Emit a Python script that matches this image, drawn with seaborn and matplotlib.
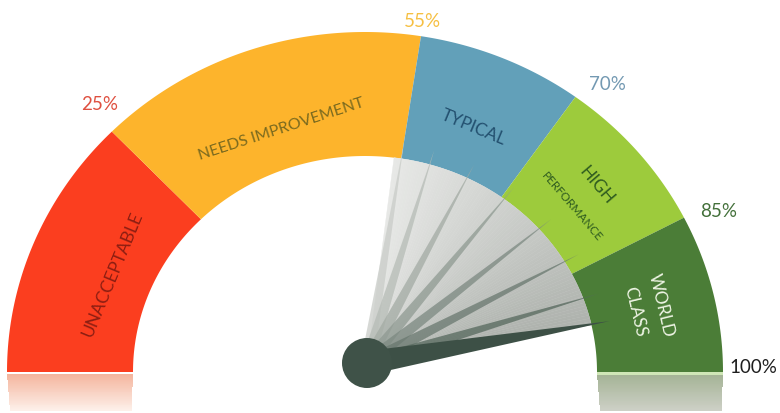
import numpy as np
import matplotlib
matplotlib.use("Agg")
import matplotlib.pyplot as plt
from matplotlib.patches import Polygon, Circle
import seaborn as sns

# ---------------- data ----------------
boundaries = [0, 25, 55, 70, 85, 100]
band_labels = [["UNACCEPTABLE"], ["NEEDS IMPROVEMENT"], ["TYPICAL"],
               ["HIGH", "PERFORMANCE"], ["WORLD", "CLASS"]]
band_colors = ["#fb3e1f", "#fdb42c", "#62a0b9", "#9dcb3c", "#4b7d37"]
band_text_colors = ["#8c1e12", "#7a6a1f", "#23506f", "#2e5b1f", "#eef4e4"]
tick_values = [25, 55, 70, 85, 100]
tick_labels = ["25%", "55%", "70%", "85%", "100%"]
tick_colors = ["#df5040", "#f6c043", "#7399b2", "#43703a", "#1e1e1e"]
needle_value = 93
blur_rays = [55, 59, 64.5, 70.5, 77, 83, 89]
fan_start = 54

# ---------------- style ----------------
sns.set_theme(style="white")
plt.rcParams["font.family"] = ["Lato", "DejaVu Sans"]

# geometry (pixel-like data units, y downward)
CX, CY = 365, 373
RXO, RYO = 358, 340
RXI, RYI = 232, 216
HX, HY = 367, 364


def ang(p):
    return np.deg2rad(180 - 1.8 * p)


def pt(p, t):
    """point at value p, radial fraction t (0 inner edge, 1 outer edge)"""
    a = ang(p)
    rx = RXI + t * (RXO - RXI)
    ry = RYI + t * (RYO - RYI)
    return CX + rx * np.cos(a), CY - ry * np.sin(a)


def arc(p0, p1, t, n=120):
    ps = np.linspace(p0, p1, n)
    xs, ys = pt(ps, t)
    return np.column_stack([xs, ys])


fig = plt.figure(figsize=(7.8, 4.14), dpi=100)
ax = fig.add_axes([0, 0, 1, 1])
ax.set_xlim(0, 780)
ax.set_ylim(414, 0)
ax.axis("off")

# ---------------- bands ----------------
for i in range(len(boundaries) - 1):
    p0, p1 = boundaries[i], boundaries[i + 1]
    outer = arc(p0, p1, 1.0)
    inner = arc(p1, p0, 0.0)
    ax.add_patch(Polygon(np.vstack([outer, inner]), closed=True,
                         facecolor=band_colors[i], edgecolor="none", zorder=2))

# ---------------- reflections ----------------
def reflection(x0, x1, ctop, cbot, y0=375, y1=412, n=40):
    cols = sns.blend_palette([ctop, cbot], n)
    ys = np.linspace(y0, y1, n + 1)
    for k in range(n):
        shrink = 3 * k / n
        ax.fill_between([x0 + shrink, x1 - shrink * 0.5], ys[k], ys[k + 1],
                        color=cols[k], linewidth=0, zorder=1)

reflection(CX - RXO, CX - RXI, "#f4b59d", "#fdf0ea")
reflection(CX + RXI, CX + RXO, "#a4b395", "#cdd0c6")
ax.fill_between([CX + RXI, CX + RXO], 373, 376, color="#cfe6b6", linewidth=0, zorder=1)

# ---------------- fan ----------------
n_fan = 80
fan_vals = np.linspace(fan_start, needle_value, n_fan + 1)
fan_cols = sns.blend_palette(["#e7e8e6", "#aeb2ad"], n_fan)
for k in range(n_fan):
    seg = arc(fan_vals[k], fan_vals[k + 1], 0.0, n=6)
    ax.add_patch(Polygon(np.vstack([[HX, HY], seg]), closed=True,
                         facecolor=fan_cols[k], edgecolor=fan_cols[k],
                         linewidth=0.3, zorder=3))

# blur rays
ray_cols = sns.blend_palette(["#c9ccc8", "#56685d"], len(blur_rays))
for v, c in zip(blur_rays, ray_cols):
    a = ang(v)
    tx, ty = CX + 1.07 * RXI * np.cos(a), CY - 1.07 * RYI * np.sin(a)
    dx, dy = tx - HX, ty - HY
    L = np.hypot(dx, dy)
    nx, ny = -dy / L, dx / L
    w = 6.5
    ax.add_patch(Polygon([[HX + nx * w, HY + ny * w], [tx, ty],
                          [HX - nx * w, HY - ny * w]], closed=True,
                         facecolor=c, edgecolor="none", alpha=0.75, zorder=4))

# needle
a = ang(needle_value)
tx, ty = CX + 1.08 * RXI * np.cos(a), CY - 1.08 * RYI * np.sin(a)
dx, dy = tx - HX, ty - HY
L = np.hypot(dx, dy)
nx, ny = -dy / L, dx / L
w = 12
ax.add_patch(Polygon([[HX + nx * w, HY + ny * w], [tx, ty],
                      [HX - nx * w, HY - ny * w]], closed=True,
                     facecolor="#3d5046", edgecolor="none", zorder=5))
ax.add_patch(Circle((HX, HY), 25, facecolor="#3f5248", edgecolor="none", zorder=6))

# ---------------- band labels ----------------
label_t = [[0.33], [0.32], [0.40], [0.58, 0.32], [0.58, 0.36]]
label_size = [[12.5], [11.5], [12.5], [12.5, 8.5], [12.5, 12.5]]
for i, lines in enumerate(band_labels):
    mid = (boundaries[i] + boundaries[i + 1]) / 2
    rot = np.rad2deg(ang(mid)) - 90
    for line, t, s in zip(lines, label_t[i], label_size[i]):
        x, y = pt(mid, t)
        ax.text(x, y, line, rotation=rot, rotation_mode="anchor",
                ha="center", va="center", fontsize=s,
                color=band_text_colors[i], zorder=7)

# ---------------- percent labels ----------------
tick_offsets = [(-12, -28), (1, -16), (32, -13), (35, -7), (30, -5)]
for v, lab, c, (ox, oy) in zip(tick_values, tick_labels, tick_colors, tick_offsets):
    x, y = pt(v, 1.0)
    ax.text(x + ox, y + oy, lab, ha="center", va="center",
            fontsize=13.5, color=c, zorder=7)

fig.savefig("out.png", dpi=100)
